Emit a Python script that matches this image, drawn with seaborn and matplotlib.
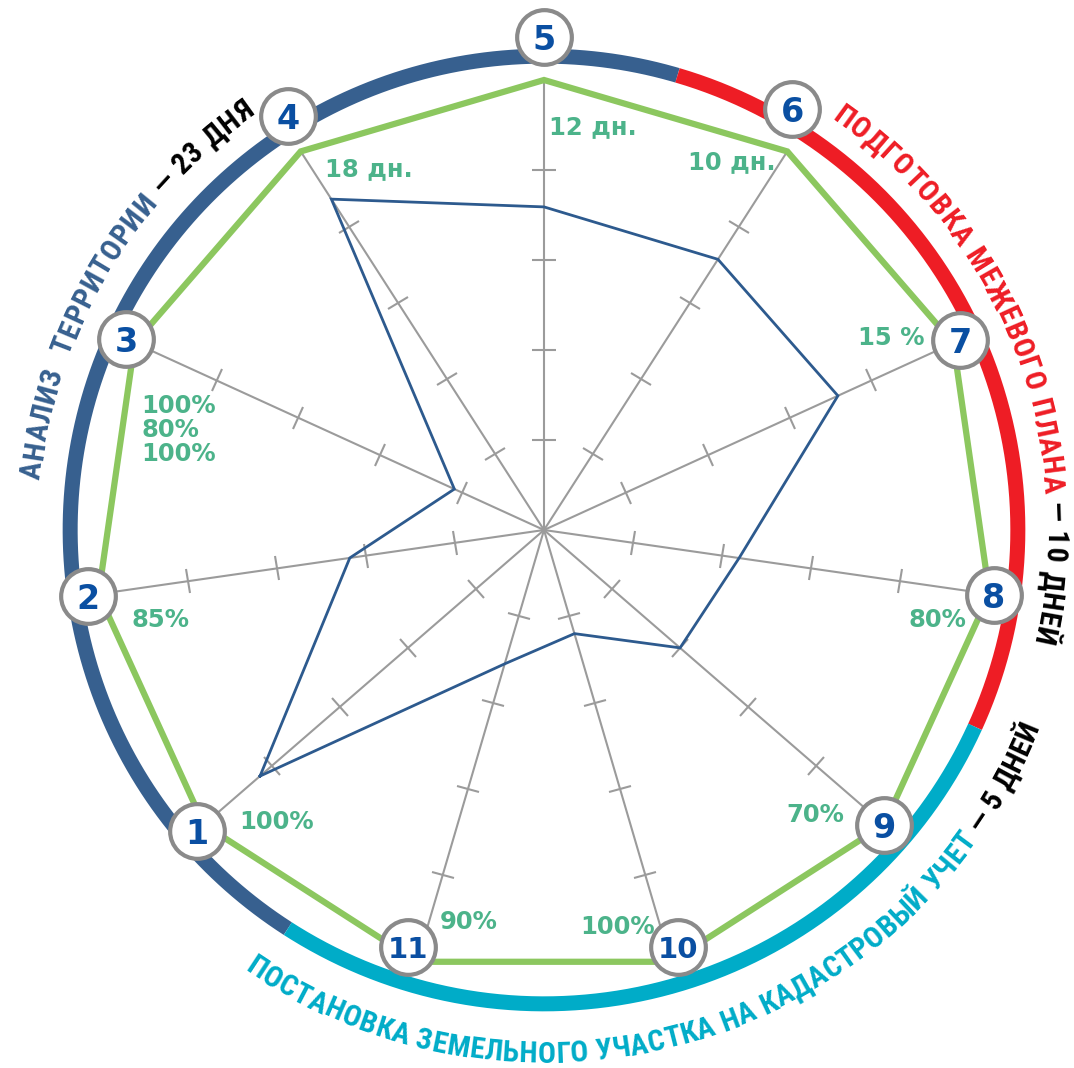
import numpy as np
import pandas as pd
import matplotlib
matplotlib.use("Agg")
import matplotlib.pyplot as plt
import seaborn as sns
from matplotlib.markers import MarkerStyle
from matplotlib.transforms import Affine2D
from matplotlib import font_manager
from matplotlib.font_manager import FontProperties
from matplotlib.ft2font import FT2Font

# ---------------- data ----------------
axis_labels = ['1', '2', '3', '4', '5', '6', '7', '8', '9', '10', '11']
actual = [0.835, 0.436, 0.219, 0.874, 0.718, 0.715, 0.718, 0.438, 0.40, 0.24, 0.31]
target = [1.0, 1.0, 1.0, 1.0, 1.0, 1.0, 1.0, 1.0, 1.0, 1.0, 1.0]
value_labels = ['100%', '85%', '100%\n80%\n100%', '18 дн.', '12 дн.', '10 дн.',
                '15 %', '80%', '70%', '100%', '90%']
grid_levels = [0.2, 0.4, 0.6, 0.8]
stage_names = ['АНАЛИЗ  ТЕРРИТОРИИ', 'ПОДГОТОВКА МЕЖЕВОГО ПЛАНА',
               'ПОСТАНОВКА ЗЕМЕЛЬНОГО УЧАСТКА НА КАДАСТРОВЫЙ УЧЕТ']
stage_days = [' — 23 ДНЯ', ' — 10 ДНЕЙ', ' — 5 ДНЕЙ']
stage_first_axis = [1, 6, 9]
stage_last_axis = [5, 8, 11]

# ---------------- styles ----------------
C_BLUE_RING = '#37608f'
C_RED = '#ee1d25'
C_CYAN = '#00acc8'
stage_colors = [C_BLUE_RING, C_RED, C_CYAN]
C_GREEN_LINE = '#8cc75f'
C_GREEN_TXT = '#4cb38a'
C_DATA = '#2d5a8e'
C_GRID = '#9b9b9b'
C_NUM = '#0a4fa2'

n = len(axis_labels)
step = 2 * np.pi / n
top_axis = 5
thetas = np.array([(int(k) - top_axis) * step for k in axis_labels])

fig = plt.figure(figsize=(10.74, 10.68), dpi=100)
cx, cy = 544, 538          # centre in px from bottom-left
half = 540                 # half side of polar axes (px)
R_PX = 450                 # px of value 1.0
ax = fig.add_axes([(cx - half) / 1074, (cy - half) / 1068, 2 * half / 1074, 2 * half / 1068],
                  projection='polar')
ax.set_theta_zero_location('N')
ax.set_theta_direction(-1)

# spokes
ax.vlines(thetas, 0, 1.0, colors=C_GRID, lw=1.5, zorder=1)
for th in thetas:
    phi = 90 - np.degrees(th)
    ms = MarkerStyle('|', transform=Affine2D().rotate_deg(phi))
    ax.plot([th] * len(grid_levels), grid_levels, ls='none', marker=ms, ms=17,
            mew=1.5, color=C_GRID, zorder=1, clip_on=False)

# target (green) and actual (blue) polygons via seaborn
th_closed = np.append(thetas, thetas[0] + 2 * np.pi)
df_t = pd.DataFrame({'theta': th_closed, 'r': target + [target[0]]})
df_a = pd.DataFrame({'theta': th_closed, 'r': actual + [actual[0]]})
sns.lineplot(data=df_t, x='theta', y='r', sort=False, estimator=None, ax=ax,
             color=C_GREEN_LINE, lw=4.5, zorder=2)
sns.lineplot(data=df_a, x='theta', y='r', sort=False, estimator=None, ax=ax,
             color=C_DATA, lw=2.0, zorder=3)
for ln in ax.lines:
    ln.set_clip_on(False)
    ln.set_solid_joinstyle('miter')

# stage ring
ring_r = 1.053
for first, last, col in zip(stage_first_axis, stage_last_axis, stage_colors):
    a0 = (first - 0.5 - top_axis) * step
    a1 = (last + 0.5 - top_axis) * step
    tt = np.linspace(a0, a1, 300)
    ax.plot(tt, np.full_like(tt, ring_r), color=col, lw=10.8, solid_capstyle='butt',
            zorder=2, clip_on=False)

# numbered circles
circ_r = [1.02, 1.024, 1.02, 1.082, 1.096, 1.086, 1.016, 1.01, 1.0, 0.973, 0.975]
circ_dth = [0, 0, 0, 1.0, 0, -2.2, 0, 0, 0, -1.4, 1.7]
circ_th = thetas + np.radians(circ_dth)
df_c = pd.DataFrame({'theta': circ_th, 'r': circ_r})
sns.scatterplot(data=df_c, x='theta', y='r', ax=ax, s=1550, color='white',
                edgecolor='#8a8a8a', linewidth=3.0, zorder=5, clip_on=False)
for lab, th, r in zip(axis_labels, circ_th, circ_r):
    ax.text(th, r, lab, ha='center', va='center_baseline',
            fontsize=24 if len(lab) == 1 else 21,
            fontweight='bold', color=C_NUM, zorder=6, clip_on=False)

# green value labels (offsets in px from the target vertex)
lab_off = [(73, 3), (62, -26), (7, -87), (68, -18), (49, -47), (-55, -11),
           (-62, 5), (-52, -26), (-69, 10), (-53, 35), (51, 40)]
for i, (lab, th) in enumerate(zip(value_labels, thetas)):
    ha = 'left' if '\n' in lab else 'center'
    ax.annotate(lab, xy=(th, target[i]), xytext=lab_off[i], textcoords='offset pixels',
                ha=ha, va='center', fontsize=17.5, fontweight='bold', color=C_GREEN_TXT,
                linespacing=1.02, multialignment='left', zorder=6, annotation_clip=False)

# curved stage captions
avail = {f.name for f in font_manager.fontManager.ttflist}
fam = 'DejaVu Sans'
for cand in ['Roboto Condensed', 'Liberation Sans Narrow', 'Open Sans Condensed', 'Roboto']:
    if cand in avail:
        fam = cand
        break
FS_CURVE = 21.5
fp_curve = FontProperties(family=fam, weight='bold', size=FS_CURVE)
CAP = 0.71 * FS_CURVE * 100 / 72   # cap height px


def advances(text, fp):
    ft = FT2Font(font_manager.findfont(fp))
    ft.set_size(fp.get_size_in_points(), 72)
    out = []
    for ch in text:
        g = ft.load_char(ord(ch))
        try:
            out.append(g.linearHoriAdvance / 65536.0)
        except Exception:
            out.append(g.horiAdvance / 64.0)
    return np.array(out) * 100 / 72.0


def curved(parts, th_a, th_b, r_base, fp, outward):
    text = ''.join(p for p, _ in parts)
    cols = [c for p, c in parts for _ in p]
    adv = advances(text, fp)
    cum = np.concatenate([[0], np.cumsum(adv)])
    centres = (cum[:-1] + cum[1:]) / 2
    r_mid_px = r_base * R_PX + (CAP / 2 if outward else -CAP / 2)
    span_px = np.radians(abs(th_b - th_a)) * r_mid_px
    nat = centres - centres[0]
    extra = (span_px - nat[-1]) / (len(text) - 1)       # uniform tracking
    pos = nat + extra * np.arange(len(text))
    ang = np.degrees(pos / r_mid_px)
    sgn = 1 if th_b > th_a else -1
    ths = th_a + sgn * ang
    for ch, th, col in zip(text, ths, cols):
        if ch == ' ':
            continue
        rot = -th if sgn > 0 else 180 - th
        ax.text(np.radians(th), r_base, ch, rotation=rot, rotation_mode='anchor',
                ha='center', va='baseline', color=col, fontproperties=fp,
                zorder=6, clip_on=False)


spans = [(-83.3, -35.6, 1.125, True), (36.0, 102.0, 1.115, True),
         (213.3, 112.6, 1.184, False)]
for name, days, col, (a0, a1, rb, outw) in zip(stage_names, stage_days, stage_colors, spans):
    curved([(name, col), (days, 'black')], a0, a1, rb, fp_curve, outw)

ax.set_ylim(0, half / R_PX)
ax.set_axis_off()
fig.savefig('out.png', dpi=100)
